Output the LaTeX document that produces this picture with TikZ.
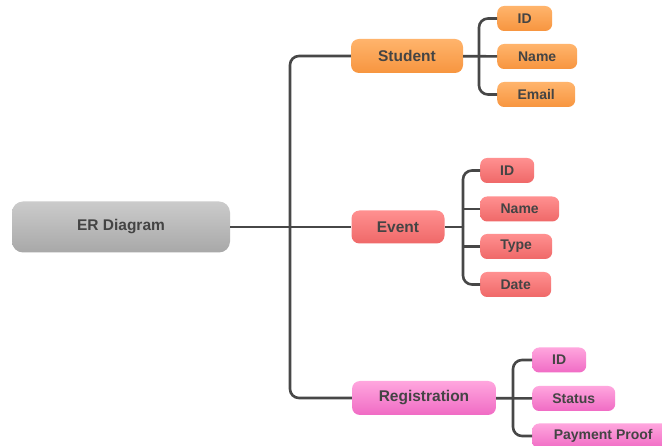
\documentclass[tikz,border=0pt]{standalone}
\usepackage{fontspec}
\setmainfont{Liberation Sans}

\definecolor{txt}{HTML}{444444}
\definecolor{wirec}{HTML}{474747}
\definecolor{grayT}{HTML}{CBCBCB}
\definecolor{grayB}{HTML}{A8A8A8}
\definecolor{orangeT}{HTML}{FFB46C}
\definecolor{orangeB}{HTML}{F7953F}
\definecolor{redT}{HTML}{FF9090}
\definecolor{redB}{HTML}{EF6868}
\definecolor{pinkT}{HTML}{FFA6DE}
\definecolor{pinkB}{HTML}{F06BC4}

\tikzset{
	box/.style={rounded corners=7pt, text=txt, inner sep=0pt, minimum height=25pt,
		font=\bfseries\fontsize{14}{16}\selectfont},
	root/.style={box, rounded corners=11pt, top color=grayT, bottom color=grayB,
		minimum width=218pt, minimum height=51pt, font=\bfseries\fontsize{15.5}{18}\selectfont},
	entity/.style={box, rounded corners=8pt, minimum height=34pt,
		font=\bfseries\fontsize{15.5}{18}\selectfont},
	stud/.style={top color=orangeT, bottom color=orangeB},
	evt/.style={top color=redT, bottom color=redB},
	reg/.style={top color=pinkT, bottom color=pinkB},
	wire/.style={draw=wirec, line width=2.6pt, rounded corners=9pt}
}

\begin{document}
\begin{tikzpicture}[x=1pt,y=-1pt]
		% page
		\path[fill=white,use as bounding box] (0,0) rectangle (662,446);
		
		% root and entities
		\node[root] (er) at (121,227) {ER Diagram};
		\node[entity,stud,minimum width=112pt] (student) at (407,56) {Student};
		\node[entity,evt,minimum width=93pt,minimum height=33pt] (event) at (398,227) {Event};
		\node[entity,reg,minimum width=144pt] (registration) at (424,398) {Registration};
		
		% student attributes
		\node[box,stud,anchor=west,minimum width=55pt] (sid) at (497,18.5) {ID};
		\node[box,stud,anchor=west,minimum width=80pt] (sname) at (497,56.5) {Name};
		\node[box,stud,anchor=west,minimum width=78pt] (semail) at (497,94.5) {Email};
		
		% event attributes
		\node[box,evt,anchor=west,minimum width=54pt] (eid) at (480,170.5) {ID};
		\node[box,evt,anchor=west,minimum width=79pt] (ename) at (480,209) {Name};
		\node[box,evt,anchor=west,minimum width=72pt] (etype) at (480,246.5) {Type};
		\node[box,evt,anchor=west,minimum width=71pt] (edate) at (480,284.5) {Date};
		
		% registration attributes
		\node[box,reg,anchor=west,minimum width=54pt] (rid) at (532,360) {ID};
		\node[box,reg,anchor=west,minimum width=83pt] (rstatus) at (532,398.5) {Status};
		\node[box,reg,anchor=west,minimum width=142pt] (rproof) at (532,436) {Payment Proof};
		
		% hubs
		\coordinate (hub) at (290,227);
		\coordinate (shub) at (479,56);
		\coordinate (ehub) at (463,227);
		\coordinate (rhub) at (513,398);
		
		% main branches
		\draw[wire] (er) -- (event);
		\draw[wire] (student.west) -| (hub);
		\draw[wire] (registration.west) -| (hub);
		
		% student branches
		\draw[wire] (student) -- (sname);
		\draw[wire] (sid.west) -| (shub);
		\draw[wire] (semail.west) -| (shub);
		
		% event branches
		\draw[wire] (event) -- (ehub);
		\draw[wire] (eid.west) -| (ehub);
		\draw[wire] (edate.west) -| (ehub);
		\draw[wire] (ename.west) -- (ename.west -| ehub);
		\draw[wire] (etype.west) -- (etype.west -| ehub);
		
		% registration branches
		\draw[wire] (registration) -- (rstatus);
		\draw[wire] (rid.west) -| (rhub);
		\draw[wire] (rproof.west) -| (rhub);
		
	\end{tikzpicture}
\end{document}
